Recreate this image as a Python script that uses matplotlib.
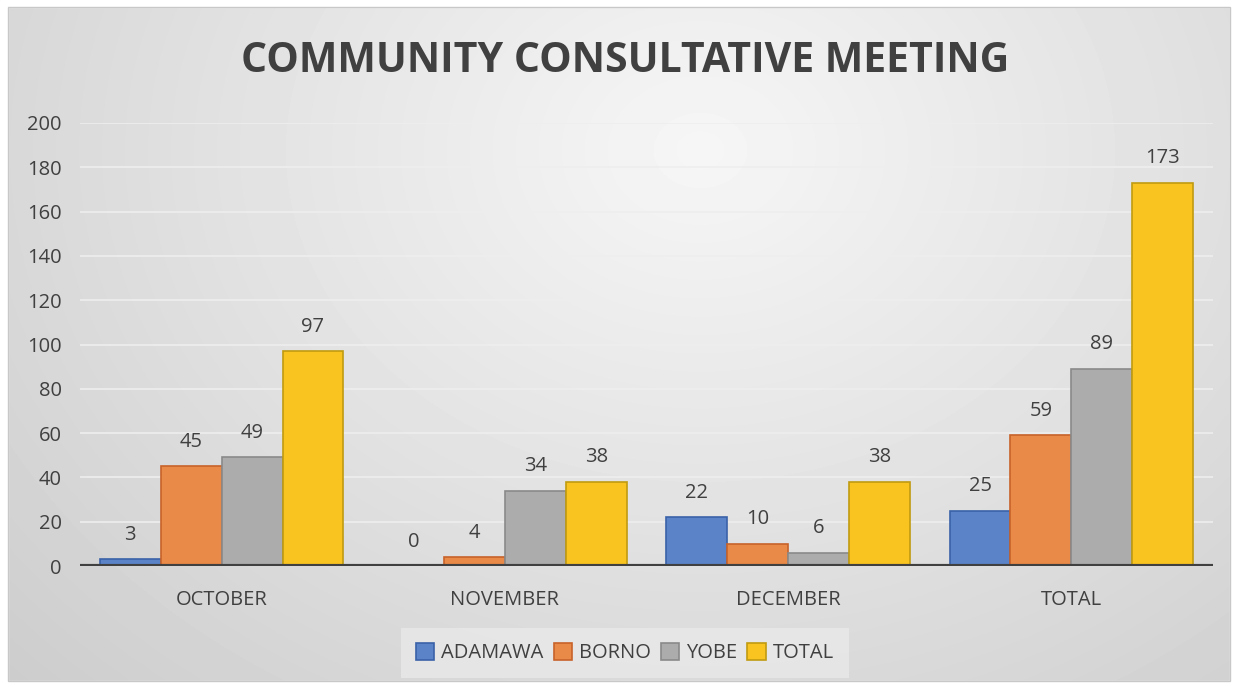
import numpy as np
import matplotlib.pyplot as plt
from matplotlib.patches import Rectangle

# chart data
months = ['OCTOBER', 'NOVEMBER', 'DECEMBER', 'TOTAL']
adamawa = [3, 0, 22, 25]
borno = [45, 4, 10, 59]
yobe = [49, 34, 6, 89]
total = [97, 38, 38, 173]
series_names = ['ADAMAWA', 'BORNO', 'YOBE', 'TOTAL']

plt.rcParams['font.family'] = ['Open Sans', 'DejaVu Sans']
txt = '#404040'

fig = plt.figure(figsize=(12.36, 6.87), dpi=100)
fig.patch.set_facecolor('white')

# gradient background panel
bg = fig.add_axes([0, 0, 1, 1], zorder=-10)
W, H = 1236, 687
yy, xx = np.mgrid[0:H, 0:W]
d = np.sqrt(((xx - 700) / 1000.0) ** 2 + ((yy - 150) / 800.0) ** 2)
shade = np.clip(0.965 - 0.17 * d, 0.79, 1.0)
bg.imshow(shade, cmap='gray', vmin=0, vmax=1, extent=(0, W, H, 0), aspect='auto')
bg.add_patch(Rectangle((0, 0), W, 7, color='white'))
bg.add_patch(Rectangle((0, 681), W, 6, color='white'))
bg.add_patch(Rectangle((0, 0), 8, H, color='white'))
bg.add_patch(Rectangle((1230, 0), 6, H, color='white'))
bg.add_patch(Rectangle((8, 7), 1222, 674, fill=False, edgecolor='#c8c8c8', lw=1))
bg.set_xlim(0, W)
bg.set_ylim(H, 0)
bg.axis('off')

ax = fig.add_axes([80 / W, 1 - 566 / H, (1213 - 80) / W, (566 - 123) / H])
ax.patch.set_alpha(0)

x = np.arange(len(months))
w = 0.215
fills = ['#5B84C8', '#E98A48', '#ACACAC', '#F9C320']
edges = ['#3A62A8', '#C8622A', '#8A8A8A', '#C09B10']
data = [adamawa, borno, yobe, total]

for i, (vals, name) in enumerate(zip(data, series_names)):
    pos = x + (i - 1.5) * w
    ax.bar(pos, vals, width=w, color=fills[i], edgecolor=edges[i], linewidth=1.2,
           label=name, zorder=3)
    for px, v in zip(pos, vals):
        ax.text(px, v + 6.5, str(v), ha='center', va='bottom', fontsize=14.5, color=txt)

ax.set_xlim(-0.5, 3.5)
ax.set_ylim(0, 200)
ax.set_yticks(range(0, 201, 20))
ax.set_xticks(x)
ax.set_xticklabels(months)
ax.grid(axis='y', color='#eeeeee', lw=1.2, zorder=0)
ax.axhline(0, color='#404040', lw=3, zorder=4)
for s in ax.spines.values():
    s.set_visible(False)
ax.tick_params(axis='both', length=0, labelsize=14.5, colors=txt)
ax.tick_params(axis='y', pad=13)
ax.tick_params(axis='x', pad=17)

fig.text(0.506, 1 - 61 / H, 'COMMUNITY CONSULTATIVE MEETING', ha='center', va='center',
         fontsize=29.5, fontweight='bold', color=txt)

leg = ax.legend(loc='center', bbox_to_anchor=((625 - 80) / (1213 - 80), (566 - 653) / (566 - 123)),
                ncol=4, frameon=True, fontsize=14.5, handlelength=0.9, handleheight=0.9,
                handletextpad=0.35, columnspacing=0.5, borderpad=0.45)
leg.get_frame().set_facecolor('#e9e9e9')
leg.get_frame().set_edgecolor('none')
leg.get_frame().set_boxstyle('square')
for t in leg.get_texts():
    t.set_color(txt)

fig.savefig('out.png', dpi=100)
